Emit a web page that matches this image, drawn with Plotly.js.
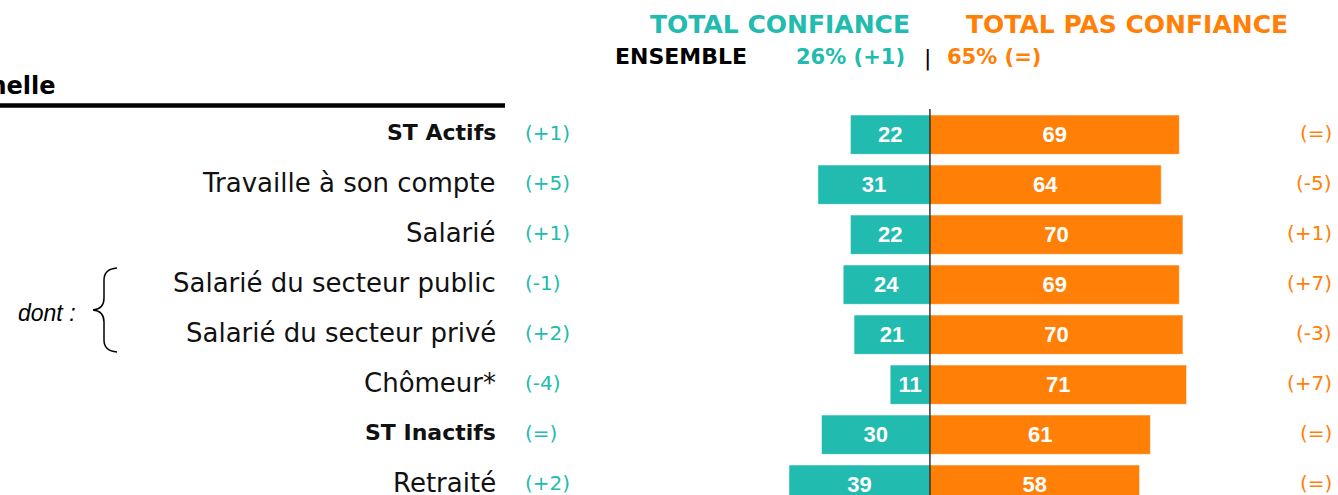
<!DOCTYPE html>
<html>
<head>
<meta charset="utf-8">
<script src="https://cdn.plot.ly/plotly-3.0.1.min.js"></script>
<style>html,body{margin:0;padding:0;background:#fff;}#chart{width:1338px;height:495px;}</style>
</head>
<body>
<div id="chart"></div>
<script>
// ---- data ----
const categories = ["ST Actifs", "Travaille à son compte", "Salarié", "Salarié du secteur public", "Salarié du secteur privé", "Chômeur*", "ST Inactifs", "Retraité"];
const boldCategories = ["ST Actifs", "ST Inactifs"];
const confiance = [22, 31, 22, 24, 21, 11, 30, 39];
const pasConfiance = [69, 64, 70, 69, 70, 71, 61, 58];
const evolConfiance = ["(+1)", "(+5)", "(+1)", "(-1)", "(+2)", "(-4)", "(=)", "(+2)"];
const evolPasConfiance = ["(=)", "(-5)", "(+1)", "(+7)", "(-3)", "(+7)", "(=)", "(=)"];
const headerConfiance = "TOTAL CONFIANCE";
const headerPasConfiance = "TOTAL PAS CONFIANCE";
const ensembleLabel = "ENSEMBLE";
const ensembleConfiance = "26% (+1)";
const ensemblePasConfiance = "65% (=)";
const sectionTitle = "Situation professionnelle";
const dontLabel = "dont :";

// ---- style ----
const W = 1338, H = 495;
const TEAL = "#21BBAF", ORANGE = "#FF7F07";
const px = x => x / W;
const py = y => 1 - y / H;
const labelFont = "DejaVu Sans, Verdana, sans-serif";

const traces = [
  {
    type: "bar", orientation: "h",
    y: categories, x: confiance.map(v => -v),
    text: confiance.map(String),
    textposition: "inside", insidetextanchor: "middle",
    textfont: {family: "Liberation Sans, Arial, sans-serif", size: 22, color: "#fff", weight: "bold"},
    marker: {color: TEAL, line: {color: "rgba(255,255,255,0.5)", width: 1}},
    hoverinfo: "skip", cliponaxis: false
  },
  {
    type: "bar", orientation: "h",
    y: categories, x: pasConfiance,
    text: pasConfiance.map(String),
    textposition: "inside", insidetextanchor: "middle",
    textfont: {family: "Liberation Sans, Arial, sans-serif", size: 22, color: "#fff", weight: "bold"},
    marker: {color: ORANGE, line: {color: "rgba(255,255,255,0.5)", width: 1}},
    hoverinfo: "skip", cliponaxis: false
  }
];

const annotations = [];
categories.forEach((c, i) => {
  const isBold = boldCategories.includes(c);
  annotations.push({
    xref: "paper", yref: "y", x: px(498), y: c, xanchor: "right", yanchor: "middle",
    text: isBold ? "<b>" + c + "</b>" : c,
    showarrow: false, yshift: 2,
    font: {family: labelFont, size: isBold ? 22 : 26, color: "#111"}
  });
  annotations.push({
    xref: "paper", yref: "y", x: px(523), y: c, xanchor: "left", yanchor: "middle",
    text: evolConfiance[i], showarrow: false, yshift: 2,
    font: {family: labelFont, size: 20, color: TEAL}
  });
  annotations.push({
    xref: "paper", yref: "y", x: px(1334), y: c, xanchor: "right", yanchor: "middle",
    text: evolPasConfiance[i], showarrow: false, yshift: 2,
    font: {family: labelFont, size: 20, color: ORANGE}
  });
});

const hdr = (text, x, y, anchor, size, color, bold) => ({
  xref: "paper", yref: "paper", x: px(x), y: py(y), xanchor: anchor, yanchor: "middle",
  text: bold ? "<b>" + text + "</b>" : text, showarrow: false,
  font: {family: labelFont, size: size, color: color}
});
annotations.push(hdr(headerConfiance, 780, 25, "center", 25, TEAL, true));
annotations.push(hdr(headerPasConfiance, 1127, 25, "center", 25, ORANGE, true));
annotations.push(hdr(ensembleLabel, 613, 57, "left", 22, "#000", true));
annotations.push(hdr(ensembleConfiance, 907, 57, "right", 21, TEAL, true));
annotations.push(hdr("|", 927, 58, "center", 22, "#000", false));
annotations.push(hdr(ensemblePasConfiance, 945, 57, "left", 21, ORANGE, true));
annotations.push(hdr(sectionTitle, 58, 86, "right", 24, "#000", true));
annotations.push({
  xref: "paper", yref: "paper", x: px(16), y: py(313), xanchor: "left", yanchor: "middle",
  text: "<i>" + dontLabel + "</i>", showarrow: false,
  font: {family: "Liberation Sans, Arial, sans-serif", size: 23, color: "#000"}
});

// brace path built in pixel space then mapped to paper coordinates
const bracePts = [["M",117,268],["Q",104,269,104,280],["L",104,298],["Q",104,309,93,310],["Q",104,311,104,322],["L",104,340],["Q",104,351,117,352]];
const bracePath = bracePts.map(p => {
  const cmd = p[0]; const nums = p.slice(1);
  const out = [];
  for (let k = 0; k < nums.length; k += 2) out.push(px(nums[k]) + "," + py(nums[k + 1]));
  return cmd + out.join(" ");
}).join(" ");

const shapes = [
  {type: "line", xref: "x", yref: "paper", x0: 0, x1: 0, y0: 0, y1: py(109), line: {color: "#000", width: 1.2}},
  {type: "line", xref: "paper", yref: "paper", x0: 0, x1: px(505), y0: py(105.5), y1: py(105.5), line: {color: "#000", width: 4.5}},
  {type: "path", xref: "paper", yref: "paper", path: bracePath, line: {color: "#000", width: 1.5}}
];

const layout = {
  width: W, height: H, autosize: false,
  margin: {l: 0, r: 0, t: 0, b: 0, pad: 0},
  paper_bgcolor: "#fff", plot_bgcolor: "#fff",
  barmode: "relative", bargap: 0.214,
  showlegend: false,
  xaxis: {range: [-257.3, 112.9], showgrid: false, zeroline: false, showticklabels: false, showline: false, fixedrange: true},
  yaxis: {type: "category", categoryarray: categories, categoryorder: "array", range: [7.206, -2.694], showgrid: false, zeroline: false, showticklabels: false, showline: false, fixedrange: true},
  annotations: annotations,
  shapes: shapes,
  uniformtext: {mode: false}
};

Plotly.newPlot("chart", traces, layout, {staticPlot: true, displayModeBar: false});
</script>
</body>
</html>
